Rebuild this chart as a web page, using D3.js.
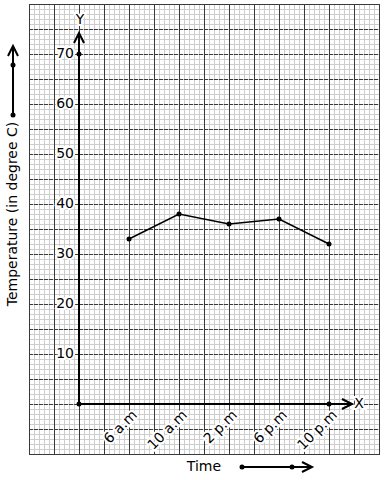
<!DOCTYPE html>
<html>
<head>
<meta charset="utf-8">
<script src="https://cdn.jsdelivr.net/npm/d3@7"></script>
<style>
  body { margin: 0; background: #fff; }
  text { font-family: "DejaVu Sans", sans-serif; }
</style>
</head>
<body>
<svg width="384" height="480"></svg>
<script>
"use strict";

// Data.

var times = ["6 a.m", "10 a.m", "2 p.m", "6 p.m", "10 p.m"];
var temps = [33, 38, 36, 37, 32];
var yTicks = [10, 20, 30, 40, 50, 60, 70];

var svg = d3.select("svg");

// Scales: x in "slots" (origin at 0, times at 1..5), y in degrees.

var x = d3.scaleLinear().domain([-1, 6]).range([29, 379]);
var y = d3.scaleLinear().domain([-10, 80]).range([454, 4]);

var MinorColor = "#cdcdcd";
var MajorColor = "#3a3a3a";
var FontSize = "14px";

// Graph paper, minor lines first.

var grid = svg.append("g");

grid.selectAll("line.vminor")
    .data(d3.range(-1, 6.001, 0.1))
    .enter().append("line")
        .attr("x1", function(d){ return Math.round(x(d)) + 0.5; })
        .attr("x2", function(d){ return Math.round(x(d)) + 0.5; })
        .attr("y1", y(80)).attr("y2", y(-10))
        .style("stroke", MinorColor).style("stroke-width", 1);

grid.selectAll("line.hminor")
    .data(d3.range(-10, 80.001, 1))
    .enter().append("line")
        .attr("x1", x(-1)).attr("x2", x(6))
        .attr("y1", function(d){ return Math.round(y(d)) + 0.5; })
        .attr("y2", function(d){ return Math.round(y(d)) + 0.5; })
        .style("stroke", MinorColor).style("stroke-width", 1);

// Major lines: vertical solid, horizontal dashed.

grid.selectAll("line.vmajor")
    .data(d3.range(-1, 6.001, 0.5))
    .enter().append("line")
        .attr("x1", function(d){ return Math.round(x(d)) + 0.5; })
        .attr("x2", function(d){ return Math.round(x(d)) + 0.5; })
        .attr("y1", y(80)).attr("y2", y(-10))
        .style("stroke", MajorColor).style("stroke-width", 1);

grid.selectAll("line.hmajor")
    .data(d3.range(-10, 80.001, 5))
    .enter().append("line")
        .attr("x1", x(-1)).attr("x2", x(6))
        .attr("y1", function(d){ return Math.round(y(d)) + 0.5; })
        .attr("y2", function(d){ return Math.round(y(d)) + 0.5; })
        .style("stroke", MajorColor).style("stroke-width", 1)
        .style("stroke-dasharray", "4,1");

// Border.
grid.append("rect")
    .attr("x", x(-1) + 0.5).attr("y", y(80) + 0.5)
    .attr("width", x(6) - x(-1)).attr("height", y(-10) - y(80))
    .style("fill", "none").style("stroke", MajorColor);

// Axes.

var ax = svg.append("g").style("stroke", "#000").style("fill", "none")
    .style("stroke-width", 2);

ax.append("line")
    .attr("x1", x(0)).attr("x2", x(0))
    .attr("y1", y(0)).attr("y2", y(74) - 1);
ax.append("path")
    .attr("d", "M" + (x(0) - 5) + "," + (y(74) + 9) + "L" + x(0) + "," + (y(74) - 1)
        + "L" + (x(0) + 5) + "," + (y(74) + 9));

ax.append("line")
    .attr("x1", x(0)).attr("x2", x(5.46))
    .attr("y1", y(0)).attr("y2", y(0));
ax.append("path")
    .attr("d", "M" + (x(5.46) - 10) + "," + (y(0) - 5) + "L" + x(5.46) + "," + y(0)
        + "L" + (x(5.46) - 10) + "," + (y(0) + 5));

svg.append("text")
    .attr("x", x(0) + 1).attr("y", y(77) + 1)
    .attr("text-anchor", "middle").attr("dominant-baseline", "middle")
    .style("font-size", FontSize)
    .style("stroke", "#fff").style("stroke-width", 4).style("paint-order", "stroke")
    .text("Y");

svg.append("text")
    .attr("x", x(5.6)).attr("y", y(0))
    .attr("text-anchor", "middle").attr("dominant-baseline", "middle")
    .style("font-size", FontSize)
    .style("stroke", "#fff").style("stroke-width", 4).style("paint-order", "stroke")
    .text("X");

// Y tick labels.

svg.selectAll("text.ytick")
    .data(yTicks)
    .enter().append("text")
        .attr("x", x(0) - 5)
        .attr("y", function(d){ return y(d); })
        .attr("text-anchor", "end").attr("dominant-baseline", "middle")
        .style("font-size", FontSize)
        .style("stroke", "#fff").style("stroke-width", 4).style("paint-order", "stroke")
        .text(function(d){ return d; });

// X tick labels, rotated.

svg.selectAll("text.xtick")
    .data(times)
    .enter().append("text")
        .attr("transform", function(d, i){
            return "translate(" + (x(i + 1) + 6) + "," + (y(0) + 9) + ") rotate(-45)";
        })
        .attr("text-anchor", "end").attr("dominant-baseline", "middle")
        .style("font-size", FontSize)
        .style("stroke", "#fff").style("stroke-width", 4).style("paint-order", "stroke")
        .text(function(d){ return d; });

// Axis markers (origin, top of y, end of x).

var markers = [[0, 0], [0, 70], [5, 0]];
svg.selectAll("circle.mark")
    .data(markers)
    .enter().append("circle")
        .attr("cx", function(d){ return x(d[0]); })
        .attr("cy", function(d){ return y(d[1]); })
        .attr("r", 2.5).style("fill", "#000");

// Temperature line.

var pts = temps.map(function(t, i){ return [i + 1, t]; });

svg.append("path")
    .datum(pts)
    .attr("d", d3.line()
        .x(function(d){ return x(d[0]); })
        .y(function(d){ return y(d[1]); }))
    .style("fill", "none").style("stroke", "#000").style("stroke-width", 1.5);

svg.selectAll("circle.pt")
    .data(pts)
    .enter().append("circle")
        .attr("cx", function(d){ return x(d[0]); })
        .attr("cy", function(d){ return y(d[1]); })
        .attr("r", 2.5).style("fill", "#000");

// Titles with direction arrows.

svg.append("text")
    .attr("x", 204).attr("y", 467)
    .attr("text-anchor", "middle").attr("dominant-baseline", "middle")
    .style("font-size", FontSize)
    .text("Time");

svg.append("text")
    .attr("transform", "translate(13,214) rotate(-90)")
    .attr("text-anchor", "middle").attr("dominant-baseline", "middle")
    .style("font-size", FontSize)
    .text("Temperature (in degree C)");

var arr = svg.append("g").style("stroke", "#000").style("fill", "none")
    .style("stroke-width", 2);

arr.append("line").attr("x1", 242).attr("x2", 312).attr("y1", 467).attr("y2", 467);
arr.append("path").attr("d", "M302,462L312,467L302,472");
arr.append("line").attr("x1", 13).attr("x2", 13).attr("y1", 115).attr("y2", 46);
arr.append("path").attr("d", "M8,56L13,46L18,56");

svg.selectAll("circle.arr")
    .data([[242, 467], [292, 467], [13, 65], [13, 115]])
    .enter().append("circle")
        .attr("cx", function(d){ return d[0]; })
        .attr("cy", function(d){ return d[1]; })
        .attr("r", 2.5).style("fill", "#000");
</script>
</body>
</html>
